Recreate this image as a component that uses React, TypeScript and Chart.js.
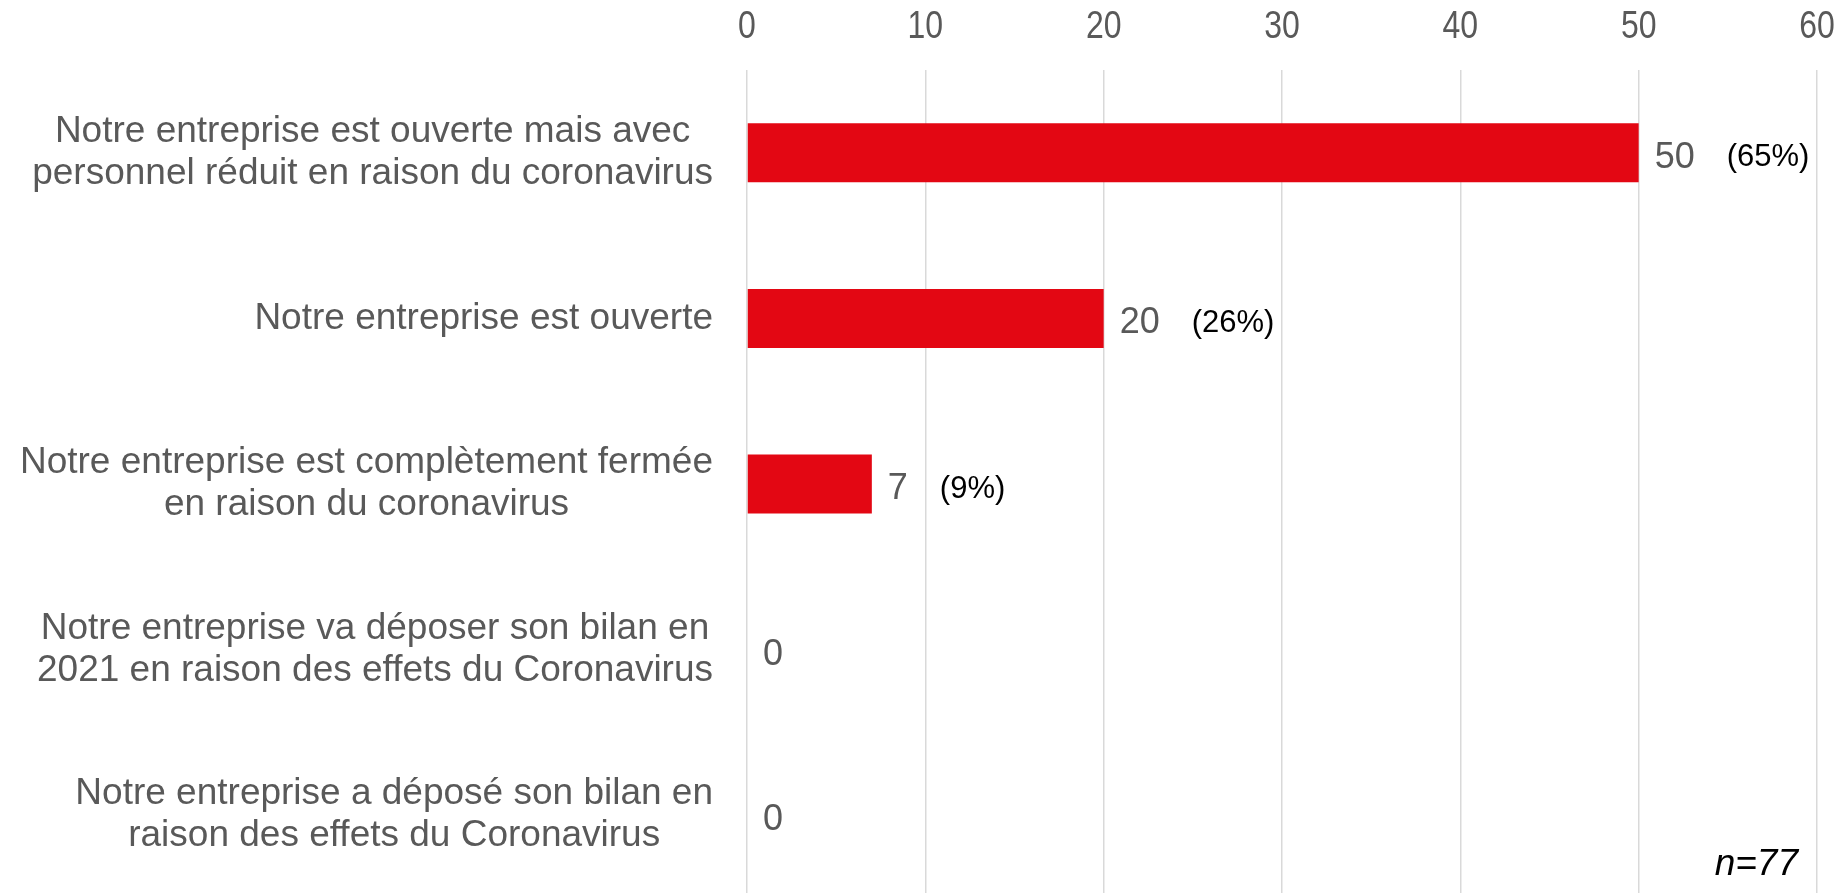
import React, { useEffect, useRef } from "react";
import { Chart, registerables } from "chart.js";

Chart.register(...registerables);

const categories: string[][] = [
  ["Notre entreprise est ouverte mais avec", "personnel réduit en raison du coronavirus"],
  ["Notre entreprise est ouverte"],
  ["Notre entreprise est complètement fermée", "en raison du coronavirus"],
  ["Notre entreprise va déposer son bilan en", "2021 en raison des effets du Coronavirus"],
  ["Notre entreprise a déposé son bilan en", "raison des effets du Coronavirus"],
];
const values: number[] = [50, 20, 7, 0, 0];
const percentLabels: string[] = ["(65%)", "(26%)", "(9%)", "", ""];
const xTicks: number[] = [0, 10, 20, 30, 40, 50, 60];
const sampleNote = "n=77";

const FONT = '"Liberation Sans", Arial, sans-serif';
const GREY = "#595959";
const RED = "#E30713";

const labelsPlugin = {
  id: "customLabels",
  afterDraw(chart: any) {
    const ctx = chart.ctx;
    const xScale = chart.scales.x;
    const yScale = chart.scales.y;
    const meta = chart.getDatasetMeta(0);
    ctx.save();
    // x tick labels (narrow, tall digits)
    ctx.font = `39px ${FONT}`;
    ctx.fillStyle = GREY;
    ctx.textBaseline = "middle";
    ctx.textAlign = "center";
    xScale.ticks.forEach((t: any) => {
      const x = xScale.getPixelForValue(t.value);
      ctx.save();
      ctx.translate(x, 27);
      ctx.scale(0.82, 1);
      ctx.fillText(String(t.value), 0, 0);
      ctx.restore();
    });
    // category labels: block right-aligned, lines centered within block
    ctx.font = `37px ${FONT}`;
    ctx.fillStyle = GREY;
    ctx.textBaseline = "middle";
    ctx.textAlign = "center";
    const rightEdge = chart.chartArea.left - 34;
    const lineH = 42;
    categories.forEach((lines, i) => {
      const yc = yScale.getPixelForValue(i);
      const widest = Math.max(...lines.map((l) => ctx.measureText(l).width));
      const cx = rightEdge - widest / 2;
      lines.forEach((line, j) => {
        const y = yc + (j - (lines.length - 1) / 2) * lineH;
        ctx.fillText(line, cx, y);
      });
    });
    // value and percentage labels
    ctx.textAlign = "left";
    values.forEach((v, i) => {
      const el = meta.data[i];
      const x = el.x + 16;
      const y = el.y + 5;
      ctx.font = `36px ${FONT}`;
      ctx.fillStyle = GREY;
      const txt = String(v);
      ctx.fillText(txt, x, y);
      const w = ctx.measureText(txt).width;
      if (percentLabels[i]) {
        ctx.font = `31px ${FONT}`;
        ctx.fillStyle = "#000000";
        ctx.fillText(percentLabels[i], x + w + 32, y);
      }
    });
    // sample size note
    ctx.font = `italic 37px ${FONT}`;
    ctx.fillStyle = "#000000";
    ctx.textAlign = "right";
    ctx.textBaseline = "alphabetic";
    ctx.fillText(sampleNote, 1798, 875);
    ctx.restore();
  },
};

export default function App() {
  const ref = useRef<HTMLCanvasElement>(null);
  useEffect(() => {
    if (!ref.current) return;
    const chart = new Chart(ref.current, {
      type: "bar",
      data: {
        labels: categories.map((c) => c.join(" ")),
        datasets: [
          {
            data: values,
            backgroundColor: RED,
            borderWidth: 0,
            barPercentage: 0.356,
            categoryPercentage: 1,
          },
        ],
      },
      options: {
        indexAxis: "y",
        animation: false,
        responsive: false,
        layout: { padding: { left: 0, right: 25, top: 0, bottom: 0 } },
        plugins: {
          legend: { display: false },
          tooltip: { enabled: false },
          title: { display: false },
        },
        scales: {
          x: {
            type: "linear",
            position: "top",
            min: xTicks[0],
            max: xTicks[xTicks.length - 1],
            afterBuildTicks: (scale: any) => {
              scale.ticks = xTicks.map((v) => ({ value: v }));
            },
            afterFit: (scale: any) => {
              scale.height = 70;
              scale.paddingLeft = 0;
              scale.paddingRight = 0;
            },
            ticks: { display: false },
            grid: { color: "#D9D9D9", lineWidth: 1.5, drawTicks: false },
            border: { display: false },
          },
          y: {
            type: "category",
            afterFit: (scale: any) => {
              scale.width = 747;
            },
            ticks: { display: false },
            grid: { display: false, drawTicks: false },
            border: { display: false },
          },
        },
      },
      plugins: [labelsPlugin],
    });
    return () => chart.destroy();
  }, []);
  return (
    <div
      style={{
        position: "fixed",
        left: 0,
        top: 0,
        width: 1842,
        height: 893,
        overflow: "hidden",
        background: "#ffffff",
      }}
    >
      <canvas ref={ref} width={1842} height={898} style={{ display: "block" }} />
    </div>
  );
}
